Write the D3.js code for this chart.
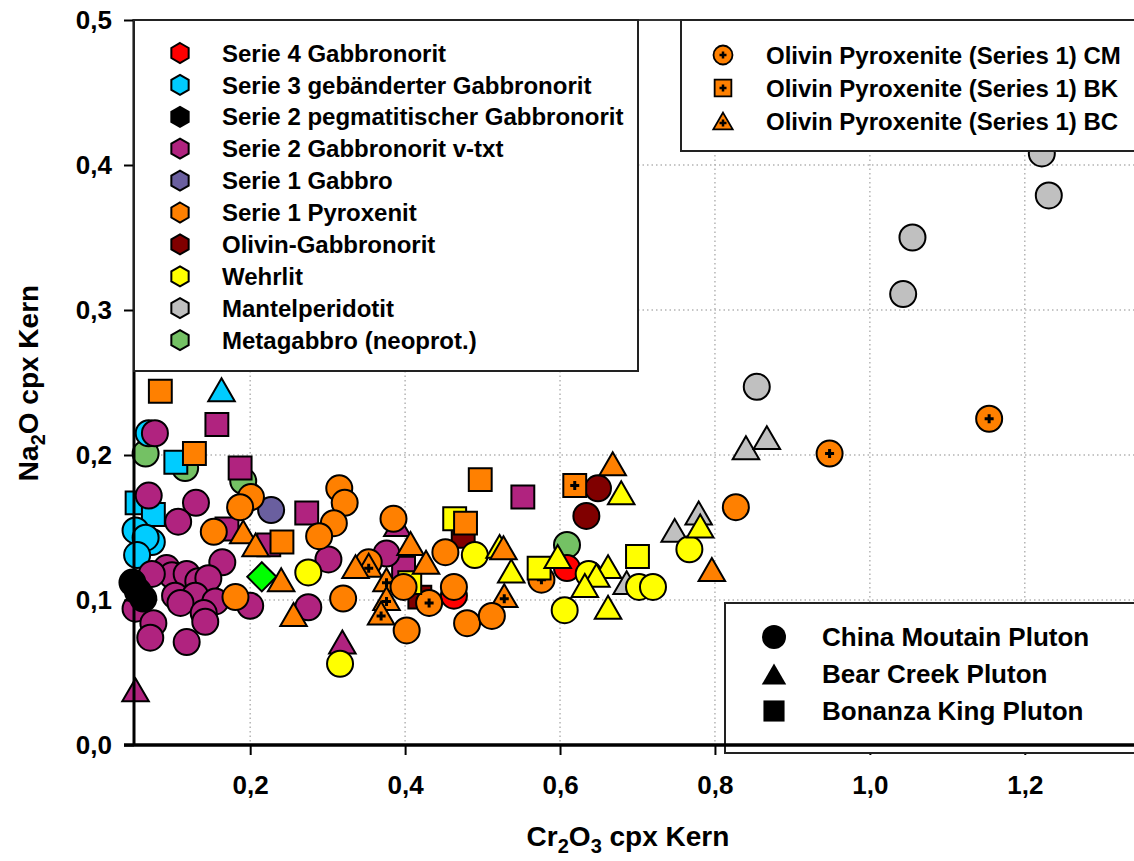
<!DOCTYPE html>
<html>
<head>
<meta charset="utf-8">
<script src="https://cdn.jsdelivr.net/npm/d3@7"></script>
<style>
  body { margin: 0; background: #fff; }
  text { font-family: Arial, "Liberation Sans", sans-serif; font-weight: bold; fill: #000; }
</style>
</head>
<body>
<svg id="chart" width="1134" height="861"></svg>
<script>
// Cr2O3 vs Na2O in clinopyroxene cores.
// Pluton codes: CM = China Mountain (circle), BC = Bear Creek (triangle), BK = Bonanza King (square)

const serie4Gabbronorit = [[0.463,0.103,"CM"],[0.609,0.122,"CM"]];
const serie3Gebaendert = [
  [0.163,0.245,"BC"],[0.069,0.215,"CM"],[0.104,0.195,"BK"],[0.054,0.167,"BK"],[0.075,0.159,"BK"],
  [0.052,0.148,"CM"],[0.073,0.140,"CM"],[0.065,0.143,"CM"],[0.054,0.131,"CM"]
];
const serie2Pegmatit = [[0.048,0.112,"CM"],[0.055,0.106,"CM"],[0.062,0.101,"CM"]];
const serie2VTxt = [
  [0.157,0.221,"BK"],[0.187,0.191,"BK"],[0.170,0.149,"BK"],[0.224,0.138,"BK"],[0.273,0.160,"BK"],
  [0.398,0.122,"BK"],[0.552,0.171,"BK"],
  [0.390,0.152,"BC"],[0.319,0.071,"BC"],[0.052,0.038,"BC"],
  [0.077,0.215,"CM"],[0.069,0.172,"CM"],[0.130,0.167,"CM"],[0.107,0.154,"CM"],[0.301,0.128,"CM"],
  [0.275,0.095,"CM"],[0.164,0.126,"CM"],[0.200,0.096,"CM"],[0.376,0.132,"CM"],
  [0.092,0.122,"CM"],[0.099,0.117,"CM"],[0.118,0.118,"CM"],[0.133,0.113,"CM"],[0.146,0.115,"CM"],
  [0.103,0.103,"CM"],[0.129,0.103,"CM"],[0.110,0.098,"CM"],[0.155,0.099,"CM"],
  [0.140,0.091,"CM"],[0.142,0.085,"CM"],[0.052,0.094,"CM"],[0.075,0.084,"CM"],[0.071,0.074,"CM"],
  [0.118,0.071,"CM"],[0.073,0.118,"CM"]
];
const serie1Gabbro = [[0.227,0.162,"CM"]];
const serie1Pyroxenit = [
  [0.084,0.244,"BK"],[0.128,0.201,"BK"],[0.241,0.140,"BK"],[0.497,0.183,"BK"],[0.478,0.153,"BK"],
  [0.201,0.171,"CM"],[0.187,0.164,"CM"],[0.153,0.147,"CM"],[0.315,0.177,"CM"],[0.322,0.167,"CM"],
  [0.308,0.153,"CM"],[0.289,0.144,"CM"],[0.320,0.101,"CM"],[0.181,0.102,"CM"],[0.385,0.156,"CM"],
  [0.452,0.133,"CM"],[0.398,0.109,"CM"],[0.463,0.109,"CM"],[0.402,0.079,"CM"],[0.480,0.084,"CM"],
  [0.512,0.089,"CM"],[0.827,0.164,"CM"],
  [0.191,0.147,"BC"],[0.207,0.138,"BC"],[0.240,0.114,"BC"],[0.256,0.090,"BC"],[0.336,0.123,"BC"],
  [0.407,0.139,"BC"],[0.427,0.126,"BC"],[0.527,0.136,"BC"],[0.668,0.194,"BC"],[0.796,0.121,"BC"]
];
const olivinGabbronorit = [[0.475,0.144,"BK"],[0.419,0.102,"BK"],[0.649,0.177,"CM"],[0.634,0.158,"CM"]];
const wehrlit = [
  [0.464,0.156,"BK"],[0.406,0.112,"BK"],[0.573,0.122,"BK"],[0.700,0.130,"BK"],
  [0.275,0.119,"CM"],[0.316,0.056,"CM"],[0.490,0.131,"CM"],[0.606,0.093,"CM"],[0.637,0.118,"CM"],
  [0.702,0.109,"CM"],[0.720,0.109,"CM"],[0.767,0.135,"CM"],
  [0.522,0.137,"BC"],[0.537,0.120,"BC"],[0.597,0.130,"BC"],[0.679,0.174,"BC"],[0.781,0.151,"BC"],
  [0.662,0.123,"BC"],[0.647,0.117,"BC"],[0.632,0.110,"BC"],[0.662,0.095,"BC"]
];
const mantelperidotit = [
  [0.854,0.247,"CM"],[1.043,0.311,"CM"],[1.055,0.350,"CM"],[1.231,0.379,"CM"],[1.222,0.408,"CM"],
  [0.840,0.205,"BC"],[0.867,0.212,"BC"],[0.779,0.160,"BC"],[0.748,0.148,"BC"],[0.686,0.112,"BC"]
];
const metagabbro = [[0.065,0.201,"CM"],[0.116,0.191,"CM"],[0.191,0.182,"CM"],[0.609,0.138,"CM"]];
const einzelprobe = [[0.215,0.116,"D"]];
const olivinPyroxenitCM = [[0.948,0.201,"CM"],[1.154,0.225,"CM"],[0.353,0.126,"CM"],[0.431,0.098,"CM"],[0.576,0.114,"CM"]];
const olivinPyroxenitBK = [[0.619,0.179,"BK"]];
const olivinPyroxenitBC = [[0.353,0.124,"BC"],[0.376,0.114,"BC"],[0.376,0.101,"BC"],[0.369,0.091,"BC"],[0.528,0.103,"BC"]];

const xTicks = [0.2, 0.4, 0.6, 0.8, 1.0, 1.2];
const yTicks = [0.0, 0.1, 0.2, 0.3, 0.4, 0.5];

const rockLegend = [
  ["Serie 4 Gabbronorit", "#ff0000"],
  ["Serie 3 gebänderter Gabbronorit", "#00ccff"],
  ["Serie 2 pegmatitischer Gabbronorit", "#000000"],
  ["Serie 2 Gabbronorit v-txt", "#b0237f"],
  ["Serie 1 Gabbro", "#6a5f9f"],
  ["Serie 1 Pyroxenit", "#ff8000"],
  ["Olivin-Gabbronorit", "#800000"],
  ["Wehrlit", "#ffff00"],
  ["Mantelperidotit", "#c0c0c0"],
  ["Metagabbro (neoprot.)", "#74c164"]
];
const olivinLegend = [
  ["Olivin Pyroxenite (Series 1) CM", "CM"],
  ["Olivin Pyroxenite (Series 1) BK", "BK"],
  ["Olivin Pyroxenite (Series 1) BC", "BC"]
];
const plutonLegend = [
  ["China Moutain Pluton", "CM"],
  ["Bear Creek Pluton", "BC"],
  ["Bonanza King Pluton", "BK"]
];

// draw order (later groups sit on top)
const layers = [
  { data: mantelperidotit, fill: "#c0c0c0" },
  { data: metagabbro, fill: "#74c164" },
  { data: serie3Gebaendert, fill: "#00ccff" },
  { data: serie2VTxt, fill: "#b0237f" },
  { data: serie2Pegmatit, fill: "#000000" },
  { data: serie1Gabbro, fill: "#6a5f9f" },
  { data: einzelprobe, fill: "#00ff00" },
  { data: serie4Gabbronorit, fill: "#ff0000" },
  { data: olivinGabbronorit, fill: "#800000" },
  { data: olivinPyroxenitCM, fill: "#ff8000", cross: true },
  { data: olivinPyroxenitBK, fill: "#ff8000", cross: true },
  { data: olivinPyroxenitBC, fill: "#ff8000", cross: true },
  { data: wehrlit, fill: "#ffff00" },
  { data: serie1Pyroxenit, fill: "#ff8000" }
];

const svg = d3.select("#chart");
svg.append("rect").attr("width", 1134).attr("height", 861).attr("fill", "#fff");

const x = d3.scaleLinear().domain([0.05, 1.341]).range([134, 1134]);
const y = d3.scaleLinear().domain([0, 0.5]).range([745, 20]);
const fmt = d3.formatLocale({ decimal: ",", thousands: ".", grouping: [3], currency: ["", ""] }).format(".1f");

// marker outlines
function shapePath(kind, s) {
  if (kind === "CM") return d3.symbol(d3.symbolCircle, Math.PI * s * s)();
  if (kind === "BK") { const h = s * 0.88; return `M${-h},${-h}H${h}V${h}H${-h}Z`; }
  if (kind === "BC") { const w = s * 1.02, h = s * 0.88; return `M0,${-h}L${w},${h}L${-w},${h}Z`; }
  if (kind === "D") { const d = s * 1.12; return `M0,${-d}L${d},0L0,${d}L${-d},0Z`; }
  return "";
}
function crossPath(a) { return `M${-a},0H${a}M0,${-a}V${a}`; }

// grid
const grid = svg.append("g").attr("stroke", "#b4b4b4").attr("stroke-width", 1.5).attr("stroke-dasharray", "1.5,3");
grid.selectAll("line.h").data(yTicks.filter(v => v > 0 && v < 0.5)).join("line")
  .attr("x1", 134).attr("x2", 1134).attr("y1", d => y(d)).attr("y2", d => y(d));
grid.selectAll("line.v").data(xTicks).join("line")
  .attr("y1", 20).attr("y2", 745).attr("x1", d => x(d)).attr("x2", d => x(d));

// top frame
svg.append("line").attr("x1", 134).attr("x2", 1134).attr("y1", 20).attr("y2", 20)
  .attr("stroke", "#333").attr("stroke-width", 2);

// points
const plot = svg.append("g");
layers.forEach(layer => {
  const g = plot.append("g");
  const pts = g.selectAll("g").data(layer.data).join("g")
    .attr("transform", d => `translate(${x(d[0])},${y(d[1])})`);
  pts.append("path")
    .attr("d", d => shapePath(d[2], 13))
    .attr("fill", layer.fill).attr("stroke", "#000").attr("stroke-width", 2);
  if (layer.cross) {
    pts.append("path").attr("d", crossPath(4.5))
      .attr("transform", d => d[2] === "BC" ? "translate(0,3)" : null)
      .attr("stroke", "#000").attr("stroke-width", 3).attr("fill", "none");
  }
});

// axes
const xAxis = svg.append("g").attr("transform", "translate(0,745)")
  .call(d3.axisBottom(x).tickValues(xTicks).tickFormat(fmt).tickSize(10).tickPadding(21));
const yAxis = svg.append("g").attr("transform", "translate(134,0)")
  .call(d3.axisLeft(y).tickValues(yTicks).tickFormat(fmt).tickSize(10).tickPadding(12));
[xAxis, yAxis].forEach(a => {
  a.select(".domain").remove();
  a.selectAll(".tick line").attr("stroke", "#000").attr("stroke-width", 2);
  a.selectAll(".tick text").attr("font-size", 26).attr("font-family", "Arial, 'Liberation Sans', sans-serif").attr("font-weight", "bold");
});
svg.append("line").attr("x1", 134).attr("x2", 134).attr("y1", 19).attr("y2", 746).attr("stroke", "#000").attr("stroke-width", 3);

// axis titles
const xt = svg.append("text").attr("x", 628).attr("y", 846).attr("text-anchor", "middle").attr("font-size", 28);
xt.append("tspan").text("Cr");
xt.append("tspan").text("2").attr("font-size", 20).attr("dy", 7);
xt.append("tspan").text("O").attr("dy", -7);
xt.append("tspan").text("3").attr("font-size", 20).attr("dy", 7);
xt.append("tspan").text(" cpx Kern").attr("dy", -7);

const yt = svg.append("text").attr("transform", "translate(38,383) rotate(-90)").attr("text-anchor", "middle").attr("font-size", 28);
yt.append("tspan").text("Na");
yt.append("tspan").text("2").attr("font-size", 20).attr("dy", 7);
yt.append("tspan").text("O cpx Kern").attr("dy", -7);

// legend: rock series
const lg1 = svg.append("g");
lg1.append("rect").attr("x", 134).attr("y", 20).attr("width", 504).attr("height", 351)
  .attr("fill", "#fff").attr("stroke", "#222").attr("stroke-width", 2);
const hex = r => d3.range(6).map(i => {
  const a = Math.PI / 3 * i - Math.PI / 2;
  return [r * Math.cos(a), r * Math.sin(a)];
});
const rows1 = lg1.selectAll("g.row").data(rockLegend).join("g")
  .attr("transform", (d, i) => `translate(180,${53 + i * 31.9})`);
rows1.append("path").attr("d", "M" + hex(10).join("L") + "Z")
  .attr("fill", d => d[1]).attr("stroke", "#000").attr("stroke-width", 2);
rows1.append("text").attr("x", 42).attr("dy", "0.36em").attr("font-size", 24).text(d => d[0]);

// legend: olivine pyroxenites
const lg2 = svg.append("g");
lg2.append("rect").attr("x", 681).attr("y", 20).attr("width", 470).attr("height", 131)
  .attr("fill", "#fff").attr("stroke", "#222").attr("stroke-width", 2);
const rows2 = lg2.selectAll("g.row").data(olivinLegend).join("g")
  .attr("transform", (d, i) => `translate(723,${55 + i * 33})`);
rows2.append("path").attr("d", d => shapePath(d[1], 9.5))
  .attr("fill", "#ff8000").attr("stroke", "#000").attr("stroke-width", 1.8);
rows2.append("path").attr("d", crossPath(3.5))
  .attr("transform", d => d[1] === "BC" ? "translate(0,2)" : null)
  .attr("stroke", "#000").attr("stroke-width", 2.5);
rows2.append("text").attr("x", 43).attr("dy", "0.36em").attr("font-size", 24).text(d => d[0]);

// legend: plutons
const lg3 = svg.append("g");
lg3.append("rect").attr("x", 725).attr("y", 603).attr("width", 420).attr("height", 150)
  .attr("fill", "#fff").attr("stroke", "#222").attr("stroke-width", 2);
const rows3 = lg3.selectAll("g.row").data(plutonLegend).join("g")
  .attr("transform", (d, i) => `translate(774,${637 + i * 37})`);
rows3.append("path").attr("d", d => shapePath(d[1], 12)).attr("fill", "#000");
rows3.append("text").attr("x", 48).attr("dy", "0.36em").attr("font-size", 26).text(d => d[0]);

// x axis line drawn over the legend box base
svg.append("line").attr("x1", 124).attr("x2", 1134).attr("y1", 745).attr("y2", 745).attr("stroke", "#000").attr("stroke-width", 3.5);
</script>
</body>
</html>
